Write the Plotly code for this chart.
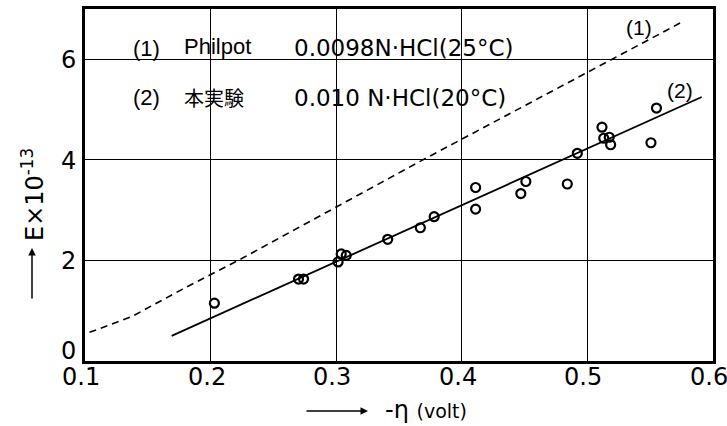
import plotly.graph_objects as go

# ---- data ----
x_tick_vals = [0.1, 0.2, 0.3, 0.4, 0.5, 0.6]
x_tick_text = ["0.1", "0.2", "0.3", "0.4", "0.5", "0.6"]
y_tick_vals = [0, 2, 4, 6]
y_tick_text = ["0", "2", "4", "6"]

# measured points, this work (2)
exp_x = [0.203, 0.270, 0.274, 0.3015, 0.304, 0.308, 0.341, 0.367, 0.378,
         0.411, 0.411, 0.447, 0.451, 0.484, 0.492, 0.5116, 0.513, 0.5174,
         0.5185, 0.5506, 0.555]
exp_y = [1.15, 1.63, 1.63, 1.97, 2.13, 2.10, 2.42, 2.65, 2.87,
         3.45, 3.02, 3.33, 3.57, 3.52, 4.13, 4.65, 4.43, 4.45,
         4.30, 4.34, 5.03]

# fitted line (2)
fit_x = [0.169, 0.591]
fit_y = [0.50, 5.25]

# Philpot curve (1)
philpot_x = [0.1036, 0.137, 0.177, 0.222, 0.369, 0.489, 0.513, 0.576]
philpot_y = [0.57, 0.88, 1.42, 2.00, 4.00, 5.60, 5.92, 6.75]

FONT = "DejaVu Sans"
FONT2 = "Liberation Sans"
L, R, T, B = 85, 14, 9, 65
W, H = 727, 426
PW, PH = W - L - R, H - T - B


def px(xp):
    return (xp - L) / PW


def py(yp):
    return (H - B - yp) / PH


fig = go.Figure()
fig.add_trace(go.Scatter(x=philpot_x, y=philpot_y, mode="lines",
                         line=dict(color="black", width=1.6, dash="7px,5px"),
                         hoverinfo="skip"))
fig.add_trace(go.Scatter(x=fit_x, y=fit_y, mode="lines",
                         line=dict(color="black", width=1.8),
                         hoverinfo="skip"))
fig.add_trace(go.Scatter(x=exp_x, y=exp_y, mode="markers",
                         marker=dict(symbol="circle-open", size=9,
                                     color="black", line=dict(width=2.2, color="black"))))

fig.update_layout(
    width=W, height=H,
    margin=dict(l=L, r=R, t=T, b=B),
    paper_bgcolor="white", plot_bgcolor="white",
    showlegend=False,
    font=dict(family=FONT, color="black"),
    xaxis=dict(range=[0.1, 0.6], tickvals=x_tick_vals, showticklabels=False,
               showgrid=True, gridcolor="black", gridwidth=1,
               showline=True, linecolor="black", linewidth=2.8, mirror=True,
               ticks="", zeroline=False, automargin=False),
    yaxis=dict(range=[0, 7.0], tickvals=y_tick_vals, showticklabels=False,
               showgrid=True, gridcolor="black", gridwidth=1,
               showline=True, linecolor="black", linewidth=2.8, mirror=True,
               ticks="", zeroline=False, automargin=False),
)

# white area behind the legend text (gridlines hidden there)
fig.add_shape(type="rect", xref="paper", yref="paper",
              x0=px(117), x1=px(553), y0=py(130), y1=py(25),
              fillcolor="white", line=dict(width=0), layer="between")

ann = []
tf = dict(family=FONT, size=24, color="black")
# tick labels (from the tick arrays, positioned through the axes)
for v, t in zip(x_tick_vals, x_tick_text):
    ann.append(dict(text=t, x=v, xref="x", y=py(377), xshift=-4,
                    xanchor="center", yanchor="middle", font=tf))
for v, t in zip(y_tick_vals, y_tick_text):
    ann.append(dict(text=t, x=px(78), y=v, yref="y", yshift=(10 if v == 0 else -1),
                    xanchor="right", yanchor="middle", font=tf))

lf = dict(family=FONT, size=23, color="black")
ann.append(dict(text="(1)", x=px(131), y=py(48), xanchor="left", font=dict(family=FONT2, size=22, color="black")))
ann.append(dict(text="Philpot", x=px(182), y=py(47), xanchor="left", font=dict(family=FONT2, size=22, color="black")))
ann.append(dict(text="0.0098N·HCl(25°C)", x=px(292), y=py(48), xanchor="left", font=lf))
ann.append(dict(text="(2)", x=px(131), y=py(98), xanchor="left", font=dict(family=FONT2, size=22, color="black")))
ann.append(dict(text="本実験", x=px(182), y=py(98), xanchor="left",
                font=dict(family="Noto Sans CJK JP", size=20, color="black")))
ann.append(dict(text="0.010 N·HCl(20°C)", x=px(292), y=py(98), xanchor="left", font=lf))
# curve labels
ann.append(dict(text="(1)", x=px(639), y=py(28), xanchor="center",
                font=dict(family=FONT2, size=21, color="black")))
ann.append(dict(text="(2)", x=px(680), y=py(90), xanchor="center",
                font=dict(family=FONT2, size=21, color="black")))
# x title
ann.append(dict(text="-η <span style='font-size:19px'>(volt)</span>", x=px(383), y=py(410),
                xanchor="left", font=dict(family=FONT, size=24, color="black")))
ann.append(dict(text="", x=px(368), y=py(411), showarrow=True, ax=-63, ay=0,
                arrowhead=2, arrowsize=1, arrowwidth=1.5, arrowcolor="black"))
# y title
ann.append(dict(text="E×10<sup>-13</sup>", x=px(33), y=py(195), textangle=-90,
                xanchor="center", yanchor="middle",
                font=dict(family=FONT, size=24, color="black")))
ann.append(dict(text="", x=px(32), y=py(248), showarrow=True, ax=0, ay=52,
                arrowhead=2, arrowsize=1, arrowwidth=1.5, arrowcolor="black"))

for a in ann:
    a.setdefault("xref", "paper")
    a.setdefault("yref", "paper")
    a.setdefault("showarrow", False)
    a.setdefault("yanchor", "middle")
    fig.add_annotation(**a)

fig.write_html("out.html", config={"displayModeBar": False},
               post_script="document.body.style.margin='0px';")
